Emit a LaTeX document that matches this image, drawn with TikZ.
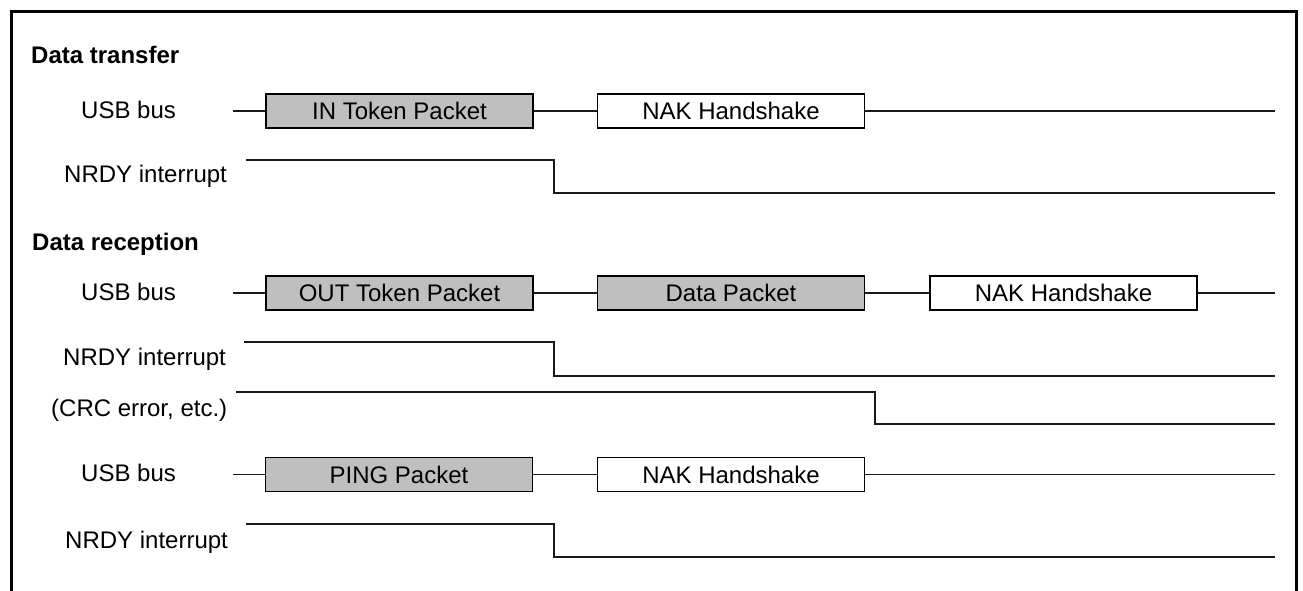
\documentclass[tikz,border=0pt]{standalone}
\usepackage{fontspec}
\setmainfont{Liberation Sans}
\begin{document}
\begin{tikzpicture}[x=1pt,y=-1pt,
  every node/.style={font=\fontsize{24}{28}\selectfont},
  lbl/.style={anchor=base west, inner sep=0pt},
  ttl/.style={anchor=base west, inner sep=0pt, font=\fontsize{24}{28}\selectfont\bfseries},
  pkt/.style={draw=black, line width=1.6pt, minimum width=267pt, minimum height=34pt, inner sep=0pt, text=black},
  gbox/.style={pkt, fill=gray!50},
  wbox/.style={pkt, fill=white},
  sig/.style={line width=1.6pt, black!90},
  frame/.style={line width=3pt}
]
\useasboundingbox (0,0) rectangle (1303,590);
% frame (open at the bottom)
\coordinate (fbl) at (11,600);
\coordinate (ftl) at (11,11);
\coordinate (ftr) at (1296,11);
\coordinate (fbr) at (1296,600);
\draw[frame] (fbl) -- (ftl) -- (ftr) -- (fbr);

% ---------------- Data transfer
\node[ttl] (t1) at (31,63) {Data transfer};
\node[lbl] (l1) at (81,118) {USB bus};
\node[gbox] (in1) at (399.5,111) {IN Token Packet};
\node[wbox] (nak1) at (731,111) {NAK Handshake};
\coordinate (u1s) at (233,111);
\coordinate (u1e) at (1275,111);
\draw[sig] (u1s) -- (in1.west);
\draw[sig] (in1.east) -- (nak1.west);
\draw[sig] (nak1.east) -- (u1e);

\node[lbl] (l2) at (64,182) {NRDY interrupt};
\coordinate (n1s) at (246,160);
\coordinate (n1f) at (554,193);
\coordinate (n1e) at (1275,193);
\draw[sig] (n1s) -| (n1f) -- (n1e);

% ---------------- Data reception
\node[ttl] (t2) at (32,250) {Data reception};
\node[lbl] (l3) at (81,300) {USB bus};
\node[gbox] (out2) at (399.5,293) {OUT Token Packet};
\node[gbox] (dat2) at (731,293) {Data Packet};
\node[wbox] (nak2) at (1063.5,293) {NAK Handshake};
\coordinate (u2s) at (233,293);
\coordinate (u2e) at (1275,293);
\draw[sig] (u2s) -- (out2.west);
\draw[sig] (out2.east) -- (dat2.west);
\draw[sig] (dat2.east) -- (nak2.west);
\draw[sig] (nak2.east) -- (u2e);

\node[lbl] (l4) at (63,365) {NRDY interrupt};
\coordinate (n2s) at (244,342);
\coordinate (n2f) at (554,376);
\coordinate (n2e) at (1275,376);
\draw[sig] (n2s) -| (n2f) -- (n2e);

\node[lbl] (l5) at (51,416) {(CRC error, etc.)};
\coordinate (c2s) at (236,392);
\coordinate (c2f) at (875,424);
\coordinate (c2e) at (1275,424);
\draw[sig] (c2s) -| (c2f) -- (c2e);

% ---------------- PING
\node[lbl] (l6) at (81,481) {USB bus};
\node[gbox] (ping3) at (399,474.5) {PING Packet};
\node[wbox] (nak3) at (731,474.5) {NAK Handshake};
\coordinate (u3s) at (233,474.5);
\coordinate (u3e) at (1275,474.5);
\draw[sig] (u3s) -- (ping3.west);
\draw[sig] (ping3.east) -- (nak3.west);
\draw[sig] (nak3.east) -- (u3e);

\node[lbl] (l7) at (65,548) {NRDY interrupt};
\coordinate (n3s) at (246,524);
\coordinate (n3f) at (554,557);
\coordinate (n3e) at (1275,557);
\draw[sig] (n3s) -| (n3f) -- (n3e);
\end{tikzpicture}
\end{document}
